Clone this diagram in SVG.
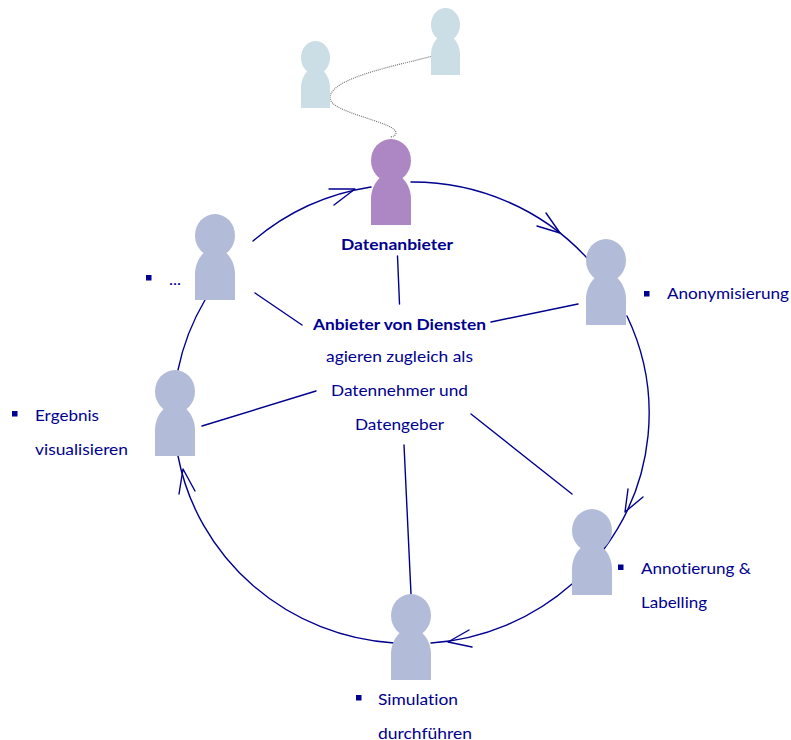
<svg xmlns="http://www.w3.org/2000/svg" width="791" height="740" viewBox="0 0 791 740">
<style>
text{font-family:"Lato","Liberation Sans",sans-serif;font-size:16px;fill:#00008f;font-variant-ligatures:none}
.b{font-weight:700}
.c{fill:none;stroke:#00008f;stroke-width:1.4;stroke-linecap:round;stroke-linejoin:round}
.d{fill:none;stroke:#777;stroke-width:1.2;stroke-dasharray:1 1}
.s{fill:#00008f}
.p{fill:#b2bcd8}
.v{fill:#ad87c4}
.l{fill:#cbdde5}
</style>
<defs>
<symbol id="person" viewBox="0 0 40 86" preserveAspectRatio="none">
<path d="M0 86V60C0 47 9 34 20 34S40 47 40 60V86Z"/>
<ellipse cx="20" cy="21.5" rx="20" ry="21.5"/>
</symbol>
</defs>
<rect width="791" height="740" fill="#fff"/>
<g id="connectors">
<path class="d" d="M433 56C395 66 330 78 330 98C330 113 397 122 396 133Q396 136 390 137"/>
<path class="c" d="M253 241A235 230 0 0 1 371 187"/>
<path class="c" d="M329 189L355 189L334 205"/>
<path class="c" d="M411 182A235 230 0 0 1 587 258"/>
<path class="c" d="M546 213L560 233L537 226"/>
<path class="c" d="M627 316A235 230 0 0 1 604 549"/>
<path class="c" d="M628 489L625 512L643 497"/>
<path class="c" d="M572 584A235 230 0 0 1 431 643"/>
<path class="c" d="M469 630L448 642L472 647"/>
<path class="c" d="M394 643A235 230 0 0 1 178 456"/>
<path class="c" d="M179 494L183 469L195 491"/>
<path class="c" d="M178 370A235 230 0 0 1 205 300"/>
<path class="c" d="M399.500 304L397.500 256"/>
<path class="c" d="M491 322L578 304"/>
<path class="c" d="M255 293L302 325"/>
<path class="c" d="M202 426L316 391"/>
<path class="c" d="M471 414L572 494"/>
<path class="c" d="M404 445L411 594"/>
</g>
<g id="user-light-1" class="l"><use href="#person" x="301" y="41" width="29" height="67"/></g>
<g id="user-light-2" class="l"><use href="#person" x="431" y="8" width="29" height="67"/></g>
<g id="provider" class="v"><use href="#person" x="371" y="139" width="40" height="86"/>
<text class="b" x="341" y="250" textLength="112" lengthAdjust="spacingAndGlyphs">Datenanbieter</text></g>
<g id="center">
<text class="b" x="313" y="330" textLength="173" lengthAdjust="spacingAndGlyphs">Anbieter von Diensten</text>
<text x="326" y="362" textLength="147" lengthAdjust="spacingAndGlyphs">agieren zugleich als</text>
<text x="331" y="396" textLength="137" lengthAdjust="spacingAndGlyphs">Datennehmer und</text>
<text x="355" y="430" textLength="89" lengthAdjust="spacingAndGlyphs">Datengeber</text>
</g>
<g id="node-anonymisierung"><use class="p" href="#person" x="586" y="239" width="40" height="86"/>
<rect class="s" x="644" y="291" width="5.5" height="5.5"/>
<text x="667" y="299" textLength="122" lengthAdjust="spacingAndGlyphs">Anonymisierung</text></g>
<g id="node-annotierung"><use class="p" href="#person" x="572" y="509" width="40" height="86"/>
<rect class="s" x="618" y="564.500" width="5.5" height="5.5"/>
<text x="641" y="574" textLength="110" lengthAdjust="spacingAndGlyphs">Annotierung &amp;</text>
<text x="641" y="608" textLength="66" lengthAdjust="spacingAndGlyphs">Labelling</text></g>
<g id="node-simulation"><use class="p" href="#person" x="391" y="594" width="40" height="86"/>
<rect class="s" x="356" y="695" width="5.5" height="5.5"/>
<text x="378" y="705" textLength="80" lengthAdjust="spacingAndGlyphs">Simulation</text>
<text x="378" y="738.500" textLength="94" lengthAdjust="spacingAndGlyphs">durchführen</text></g>
<g id="node-ergebnis"><use class="p" href="#person" x="155" y="370" width="40" height="86"/>
<rect class="s" x="12" y="411" width="5.5" height="5.5"/>
<text x="35" y="421" textLength="64" lengthAdjust="spacingAndGlyphs">Ergebnis</text>
<text x="35" y="455" textLength="93" lengthAdjust="spacingAndGlyphs">visualisieren</text></g>
<g id="node-more"><use class="p" href="#person" x="195" y="214" width="40" height="86"/>
<rect class="s" x="146" y="275" width="5.5" height="5.5"/>
<text x="169" y="285" textLength="12" lengthAdjust="spacingAndGlyphs">...</text></g>
</svg>
